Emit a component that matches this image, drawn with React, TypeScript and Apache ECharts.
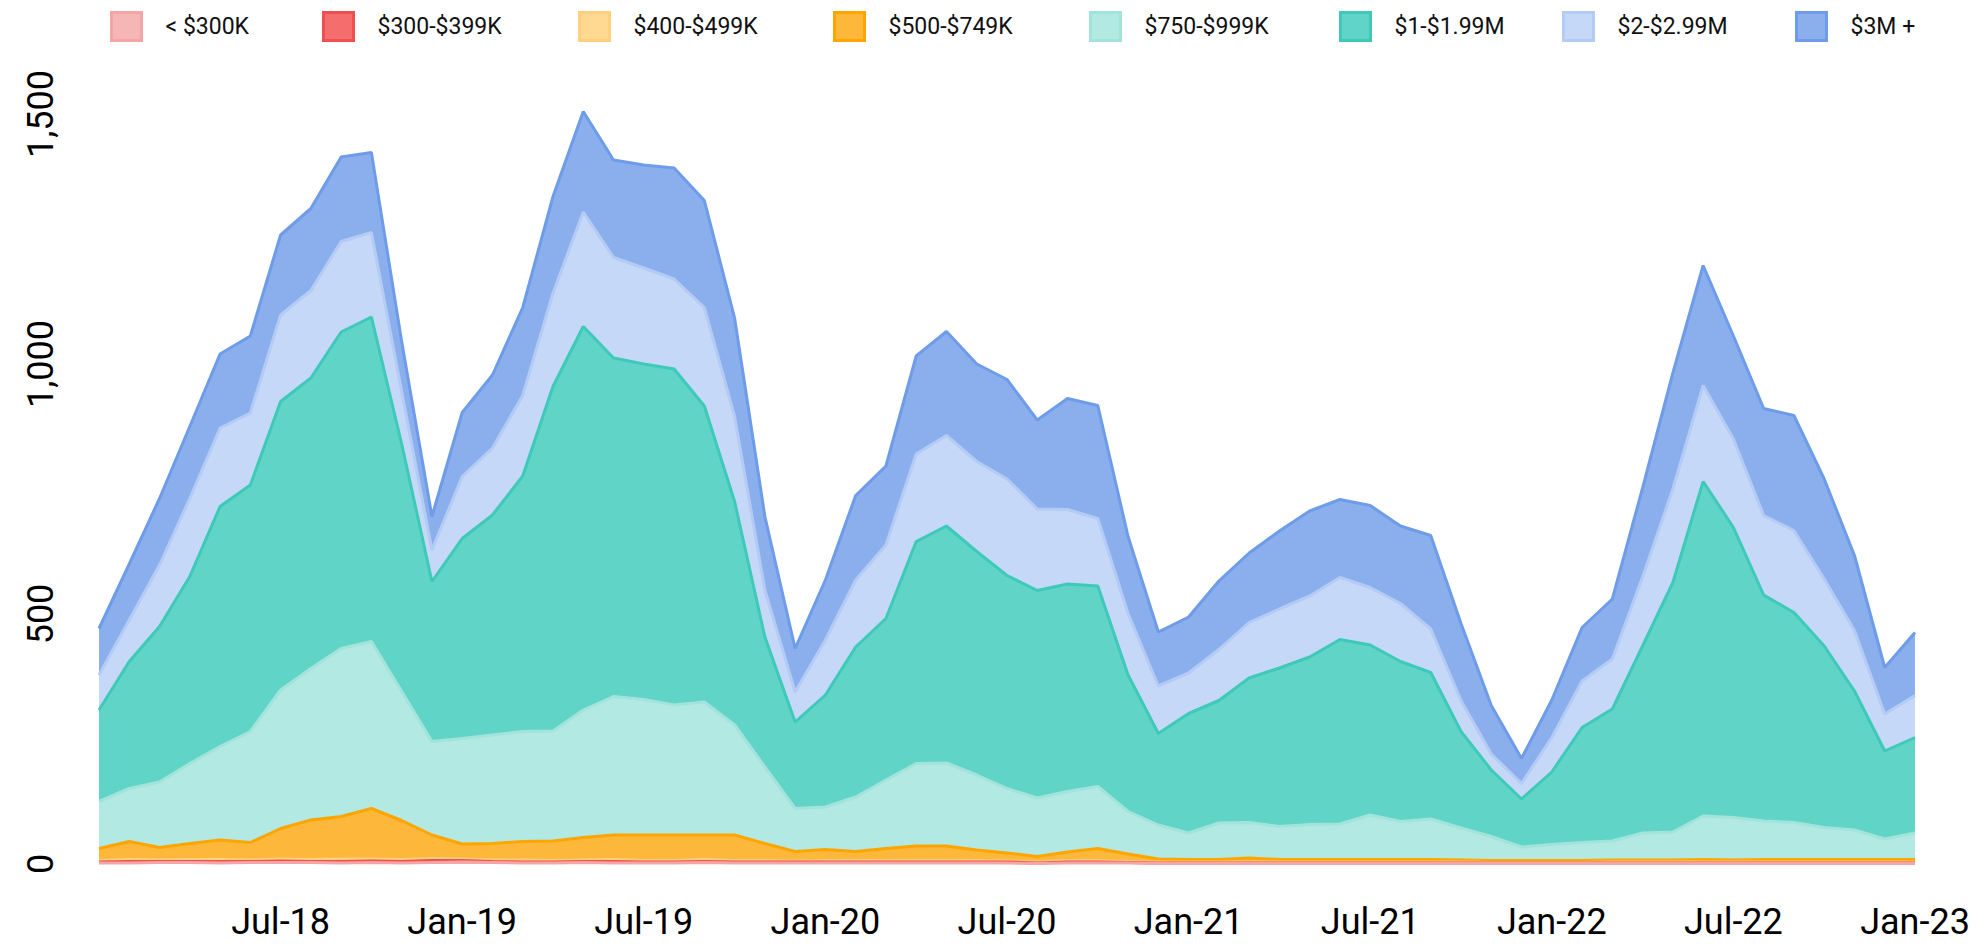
import React, { useEffect, useRef } from 'react';
import * as echarts from 'echarts';

const months = [
  'Jan-18', 'Feb-18', 'Mar-18', 'Apr-18', 'May-18', 'Jun-18', 'Jul-18', 'Aug-18', 'Sep-18', 'Oct-18', 'Nov-18', 'Dec-18',
  'Jan-19', 'Feb-19', 'Mar-19', 'Apr-19', 'May-19', 'Jun-19', 'Jul-19', 'Aug-19', 'Sep-19', 'Oct-19', 'Nov-19', 'Dec-19',
  'Jan-20', 'Feb-20', 'Mar-20', 'Apr-20', 'May-20', 'Jun-20', 'Jul-20', 'Aug-20', 'Sep-20', 'Oct-20', 'Nov-20', 'Dec-20',
  'Jan-21', 'Feb-21', 'Mar-21', 'Apr-21', 'May-21', 'Jun-21', 'Jul-21', 'Aug-21', 'Sep-21', 'Oct-21', 'Nov-21', 'Dec-21',
  'Jan-22', 'Feb-22', 'Mar-22', 'Apr-22', 'May-22', 'Jun-22', 'Jul-22', 'Aug-22', 'Sep-22', 'Oct-22', 'Nov-22', 'Dec-22',
  'Jan-23',
];

const seriesNames = ['< $300K', '$300-$399K', '$400-$499K', '$500-$749K', '$750-$999K', '$1-$1.99M', '$2-$2.99M', '$3M +'];

const under300K = [
  2, 2, 3, 3, 2, 3, 3, 3, 2, 3,
  2, 3, 4, 3, 2, 2, 3, 2, 2, 2,
  3, 2, 2, 2, 2, 2, 2, 2, 2, 2,
  2, 1, 2, 2, 2, 1, 1, 1, 1, 1,
  1, 1, 1, 1, 1, 1, 1, 1, 1, 1,
  1, 1, 1, 1, 1, 1, 1, 1, 1, 1,
  1,
];
const k300to399 = [
  2, 3, 2, 2, 3, 2, 3, 2, 3, 3,
  3, 4, 3, 2, 2, 2, 2, 3, 2, 2,
  2, 2, 2, 2, 2, 2, 2, 2, 2, 2,
  2, 1, 2, 2, 1, 1, 1, 1, 1, 1,
  1, 1, 1, 1, 1, 1, 1, 1, 1, 1,
  1, 1, 1, 1, 1, 1, 1, 1, 1, 1,
  1,
];
const k400to499 = [
  3, 4, 3, 4, 4, 3, 4, 4, 5, 4,
  4, 4, 3, 3, 4, 3, 3, 4, 3, 3,
  4, 3, 3, 2, 3, 3, 3, 3, 3, 3,
  2, 2, 3, 3, 2, 2, 2, 2, 2, 2,
  2, 2, 2, 2, 2, 2, 1, 1, 1, 1,
  2, 2, 2, 2, 2, 2, 2, 2, 2, 2,
  2,
];
const k500to749 = [
  24, 36, 25, 32, 39, 35, 61, 79, 85, 101,
  78, 47, 30, 33, 37, 39, 45, 49, 51, 51,
  49, 51, 34, 19, 22, 18, 24, 29, 29, 21,
  16, 11, 17, 24, 15, 6, 5, 5, 8, 5,
  5, 5, 5, 5, 5, 4, 4, 4, 4, 4,
  4, 4, 4, 5, 4, 5, 5, 5, 5, 5,
  5,
];
const k750to999 = [
  94, 106, 131, 160, 187, 222, 277, 303, 336, 334,
  258, 187, 211, 217, 220, 220, 255, 277, 271, 260,
  266, 220, 153, 86, 85, 109, 137, 165, 166, 150,
  129, 117, 121, 124, 85, 68, 53, 73, 71, 66,
  70, 71, 89, 76, 81, 64, 48, 27, 32, 36,
  38, 54, 56, 87, 85, 77, 74, 64, 59, 41,
  53,
];
const m1to199 = [
  183, 254, 311, 374, 480, 493, 577, 581, 633, 649,
  495, 320, 400, 440, 511, 689, 767, 677, 671, 672,
  592, 447, 260, 173, 224, 300, 323, 444, 474, 447,
  426, 415, 415, 401, 273, 183, 239, 245, 289, 317,
  335, 369, 340, 320, 293, 193, 133, 96, 145, 230,
  264, 374, 499, 669, 580, 452, 420, 363, 278, 176,
  191,
];
const m2to299 = [
  70, 83, 123, 156, 157, 144, 173, 175, 181, 169,
  105, 63, 124, 134, 161, 187, 229, 201, 192, 180,
  197, 170, 94, 60, 110, 134, 147, 175, 181, 180,
  193, 163, 149, 135, 123, 95, 81, 102, 111, 118,
  122, 124, 115, 116, 87, 62, 32, 31, 69, 93,
  100, 138, 187, 192, 177, 159, 164, 134, 121, 74,
  84,
];
const m3plus = [
  93, 112, 133, 144, 148, 154, 160, 164, 169, 160,
  100, 67, 128, 146, 176, 193, 201, 195, 206, 222,
  214, 197, 147, 87, 120, 169, 158, 196, 208, 195,
  199, 178, 222, 226, 154, 108, 112, 137, 139, 156,
  170, 156, 164, 155, 187, 154, 97, 50, 75, 107,
  120, 178, 232, 240, 206, 214, 230, 200, 150, 93,
  126,
];

const fills = ['#f7b6b6', '#f46e6e', '#ffd891', '#fdb73b', '#b2e9e3', '#61d4c8', '#c5d8f7', '#8aafec'];
const strokes = ['#f5a5a5', '#ef4f4f', '#ffd07d', '#ffa500', '#a2e4dc', '#3ec9b9', '#b3cbf5', '#6e9ce9'];

// layout: left edge of each legend entry (px)
const legendLefts = [105, 317, 573, 828, 1084, 1334, 1557, 1790];

const FONT = "Roboto, 'Liberation Sans', sans-serif";

function fmt(v: number): string {
  if (v >= 1000) {
    const r = v % 1000;
    return `${Math.floor(v / 1000)},${String(r).padStart(3, '0')}`;
  }
  return String(v);
}

export default function App() {
  const ref = useRef<HTMLDivElement>(null);
  useEffect(() => {
    if (!ref.current) return;
    const chart = echarts.init(ref.current, null, { renderer: 'svg' });
    const values = [under300K, k300to399, k400to499, k500to749, k750to999, m1to199, m2to299, m3plus];
    chart.setOption({
      animation: false,
      backgroundColor: '#ffffff',
      legend: seriesNames.map((n, k) => ({
        left: legendLefts[k],
        top: 6,
        icon: 'rect',
        itemWidth: 30,
        itemHeight: 28,
        selectedMode: false,
        textStyle: { fontSize: 23, fontFamily: FONT, color: '#111', padding: [0, 0, 0, 19] },
        data: [
          {
            name: n,
            itemStyle: { color: fills[k], borderColor: strokes[k], borderWidth: 3 },
          },
        ],
      })),
      grid: { left: 99, right: 73, top: 64, bottom: 82 },
      xAxis: {
        type: 'category',
        data: months,
        boundaryGap: false,
        axisLine: { show: false },
        axisTick: { show: false },
        splitLine: { show: false },
        axisLabel: {
          interval: (i: number) => i > 0 && i % 6 === 0,
          fontSize: 36,
          fontFamily: FONT,
          color: '#000',
          margin: 40,
        },
      },
      yAxis: {
        type: 'value',
        min: 0,
        max: 1600,
        interval: 500,
        splitLine: { show: false },
        axisLine: { show: false },
        axisTick: { show: false },
        axisLabel: {
          rotate: 90,
          showMaxLabel: false,
          fontSize: 36,
          fontFamily: FONT,
          color: '#000',
          margin: 40,
          formatter: (v: number) => fmt(v),
        },
      },
      series: values.map((d, k) => ({
        name: seriesNames[k],
        type: 'line',
        stack: 'total',
        data: d,
        symbol: 'none',
        showSymbol: false,
        lineStyle: { width: 3, color: strokes[k] },
        itemStyle: { color: fills[k] },
        areaStyle: { color: fills[k], opacity: 1 },
        z: 10 - k,
        emphasis: { disabled: true },
      })),
    });
    return () => chart.dispose();
  }, []);
  return <div ref={ref} style={{ position: 'absolute', left: 0, top: 0, width: 1988, height: 946 }} />;
}
